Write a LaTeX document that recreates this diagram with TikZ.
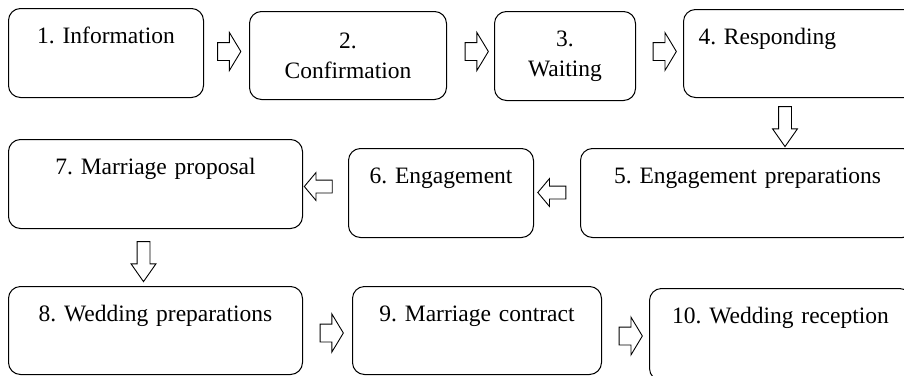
\documentclass[tikz,border=0pt]{standalone}
\usepackage{fontspec}
\setmainfont{Liberation Serif}
\frenchspacing
\usetikzlibrary{shapes.arrows}

\tikzset{
	stage/.style={draw, line width=1pt, rounded corners=12pt, anchor=north west, inner sep=0pt, align=center},
	topline/.style={text height=35pt, text depth=#1},
	blockarrow/.style={draw, single arrow, line width=0.9pt, fill=white},
	rarrow/.style={blockarrow, inner sep=8.5pt, minimum height=23pt, single arrow head extend=10pt, single arrow tip angle=118},
	larrow/.style={blockarrow, shape border rotate=180, inner sep=6pt, minimum height=28pt, single arrow head extend=7.5pt, single arrow tip angle=100},
	darrow/.style={blockarrow, shape border rotate=270, inner sep=6pt, minimum height=40pt, single arrow head extend=6pt, single arrow tip angle=70}
}

\begin{document}
\begin{tikzpicture}[x=1pt, y=-1pt, font=\fontsize{23.5}{30}\selectfont]
		\useasboundingbox (0,0) rectangle (904,375);
		% first row
		\node [stage, topline=54pt, text width=195pt](Information) at (8,8) {1. Information};
		\node [stage, text width=197pt, minimum height=88pt](Confirmation) at (249,11) {2.\\Confirmation};
		\node [stage, text width=141pt, minimum height=89pt](Waiting) at (494,11) {3.\\Waiting};
		\node [stage, topline=53pt, text width=207pt, inner xsep=15pt, align=left](Responding) at (683,9) {4. Responding};
		% second row
		\node [stage, topline=54pt, text width=334pt](EngPrep) at (580,148) {5. Engagement preparations};
		\node [stage, topline=54pt, text width=185pt](Engagement) at (348,148) {6. Engagement};
		\node [stage, topline=54pt, text width=294pt](Proposal) at (8,139) {7. Marriage proposal};
		% third row
		\node [stage, topline=53pt, text width=294pt](WedPrep) at (8,286) {8. Wedding preparations};
		\node [stage, topline=53pt, text width=249pt](Contract) at (352,286) {9. Marriage contract};
		\node [stage, topline=57pt, text width=262pt](Reception) at (649,288) {10. Wedding reception};
		% arrows
		\node [rarrow](InfoConf) at (226.5,51.5) {};
		\node [rarrow](ConfWait) at (474,51.5) {};
		\node [rarrow](WaitResp) at (662,51.5) {};
		\node [darrow](RespEng) at (785,122) {};
		\node [larrow](EngEng) at (554.5,192.5) {};
		\node [larrow](EngProp) at (321,186.5) {};
		\node [darrow](PropWed) at (143.5,257) {};
		\node [rarrow](WedContr) at (329,333) {};
		\node [rarrow](ContrRec) at (628,336) {};
	\end{tikzpicture}
\end{document}
